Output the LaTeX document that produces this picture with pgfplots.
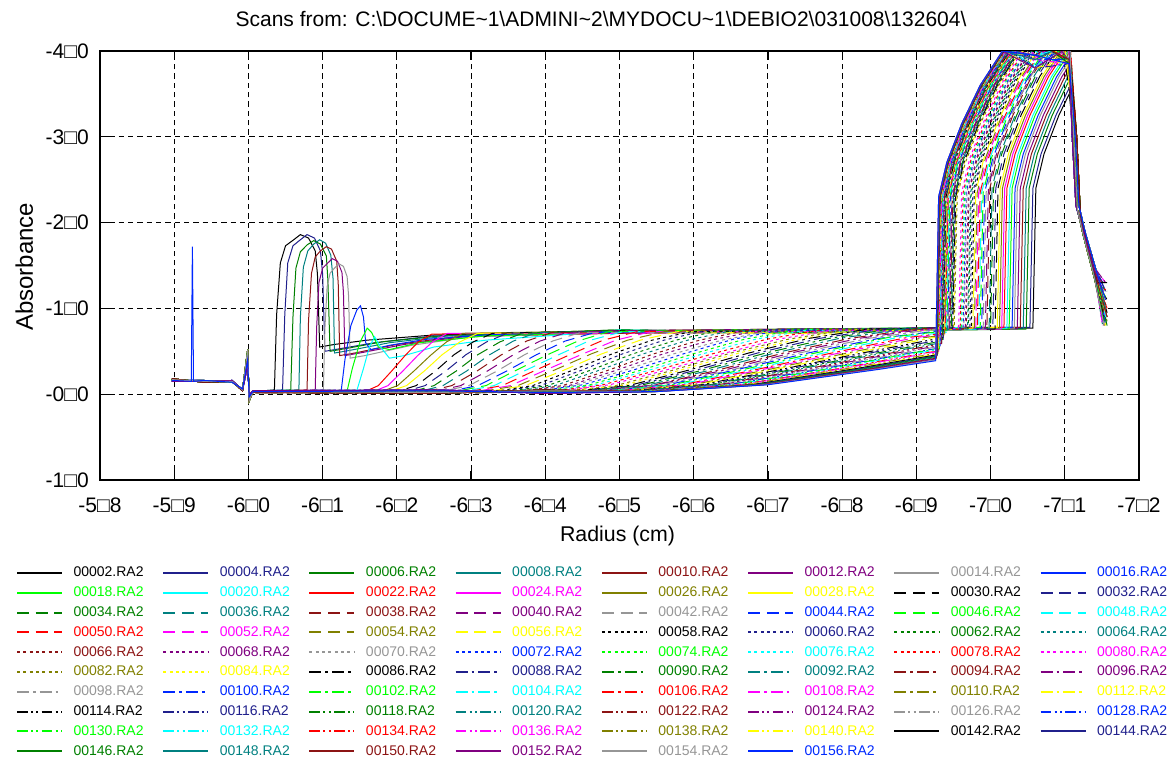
\documentclass[border=0pt]{standalone}
\usepackage{fontspec}
\setmainfont{Liberation Sans}
\usepackage{pgfplots}
\pgfplotsset{compat=1.18}
\definecolor{cblack}{RGB}{0,0,0}
\definecolor{cnavy}{RGB}{32,32,140}
\definecolor{cgreen}{RGB}{0,128,0}
\definecolor{cteal}{RGB}{0,128,128}
\definecolor{cdred}{RGB}{140,20,20}
\definecolor{cpurple}{RGB}{128,0,128}
\definecolor{cgray}{RGB}{150,150,150}
\definecolor{cblue}{RGB}{0,40,255}
\definecolor{clime}{RGB}{0,255,0}
\definecolor{ccyan}{RGB}{0,255,255}
\definecolor{cred}{RGB}{255,0,0}
\definecolor{cmag}{RGB}{255,0,255}
\definecolor{colive}{RGB}{128,128,0}
\definecolor{cyel}{RGB}{255,255,0}
\tikzset{
  lsdash/.style={dash pattern=on 9pt off 5pt},
  lsdot/.style={dash pattern=on 2.25pt off 2.5pt},
  lsdd/.style={dash pattern=on 9pt off 3pt on 2pt off 3pt},
  lsddd/.style={dash pattern=on 8pt off 2.5pt on 1.5pt off 2.5pt on 1.5pt off 2.5pt}
}
\begin{document}
\begin{tikzpicture}
\useasboundingbox (0pt,0pt) rectangle (879.75pt,-571.5pt);
\begin{axis}[
  at={(75pt,-360pt)}, anchor=south west,
  scale only axis, width=779.25pt, height=321.75pt,
  xmin=5.8, xmax=7.2, ymin=-1, ymax=4,
  xtick={5.8,5.9,6.0,6.1,6.2,6.3,6.4,6.5,6.6,6.7,6.8,6.9,7.0,7.1,7.2},
  xticklabels={-5□8,-5□9,-6□0,-6□1,-6□2,-6□3,-6□4,-6□5,-6□6,-6□7,-6□8,-6□9,-7□0,-7□1,-7□2},
  ytick={-1,0,1,2,3,4},
  yticklabels={-1□0,-0□0,-1□0,-2□0,-3□0,-4□0},
  grid=major,
  major grid style={black, line width=0.75pt, dash pattern=on 4pt off 3pt},
  axis line style={black, line width=1.1pt},
  tick align=inside, major tick length=6.75pt,
  tick style={black, line width=0.9pt},
  xticklabel style={font=\fontsize{15.75}{18}\selectfont, anchor=base, inner sep=0pt, yshift=-24pt},
  yticklabel style={font=\fontsize{15.75}{18}\selectfont, anchor=east, inner sep=0pt, xshift=-8.25pt},
  title={Scans from: C:\textbackslash DOCUME\textasciitilde 1\textbackslash ADMINI\textasciitilde 2\textbackslash MYDOCU\textasciitilde 1\textbackslash DEBIO2\textbackslash 031008\textbackslash 132604\textbackslash},
  title style={font=\fontsize{15.75}{18}\selectfont, at={(axis description cs:0.4822,1.0396)}, anchor=base, inner sep=0pt},
  xlabel={Radius (cm)},
  xlabel style={font=\fontsize{16}{18}\selectfont, at={(axis description cs:0.4981,-0.1445)}, anchor=base, inner sep=0pt},
  ylabel={Absorbance},
  ylabel style={font=\fontsize{18}{20}\selectfont, at={(axis description cs:-0.0645,0.4972)}, anchor=base, inner sep=0pt},
  every axis plot/.append style={line width=0.75pt},
  legend columns=8,
  legend cell align=left,
  legend image code/.code={\draw[#1, line width=1.5pt] (0pt,0pt) -- (33.75pt,0pt); \path (42pt,0pt);},
  legend style={at={(axis description cs:-0.0808,-0.2012)}, anchor=north west,
    draw=none, fill=none, inner sep=0pt, outer sep=0pt,
    font=\fontsize{10.5}{12}\selectfont,
    nodes={inner sep=0pt, text height=8pt, text depth=2pt},
    row sep=4.85pt,
    /tikz/every even column/.append style={column sep=14pt}},
]
\addplot[cblack,solid] coordinates {(5.897,0.17)(5.94,0.15)(5.978,0.15)(5.992,0.05)(5.999,0.52)(6.001,-0.08)(6.006,0.03)(6.035,0.05)(6.038,0.93)(6.043,1.53)(6.050,1.73)(6.061,1.80)(6.070,1.86)(6.081,1.82)(6.090,1.67)(6.093,1.40)(6.096,0.55)(6.116,0.58)(6.16,0.63)(6.25,0.69)(6.5,0.74)(6.75,0.74)(7.057,0.77)(7.061,2.4)(7.072,2.8)(7.092,3.25)(7.106,3.50)(7.112,3.0)(7.117,2.15)(7.125,1.85)(7.14,1.35)(7.153,0.85)};
\addlegendentry{\textcolor{cblack}{00002.RA2}}
\addplot[cnavy,solid] coordinates {(5.897,0.16)(5.94,0.16)(5.978,0.14)(5.992,0.06)(5.999,0.40)(6.001,-0.03)(6.006,0.03)(6.046,0.05)(6.049,0.93)(6.053,1.53)(6.060,1.73)(6.070,1.80)(6.079,1.86)(6.089,1.82)(6.097,1.67)(6.100,1.40)(6.103,0.50)(6.123,0.53)(6.17,0.60)(6.25,0.68)(6.5,0.72)(6.75,0.76)(7.053,0.78)(7.057,2.4)(7.068,2.8)(7.088,3.25)(7.106,3.57)(7.114,3.0)(7.119,2.2)(7.127,1.9)(7.142,1.45)(7.155,1.0)};
\addlegendentry{\textcolor{cnavy}{00004.RA2}}
\addplot[cgreen,solid] coordinates {(5.897,0.18)(5.94,0.14)(5.978,0.15)(5.992,0.04)(5.999,0.46)(6.001,-0.06)(6.006,0.02)(6.057,0.05)(6.060,0.90)(6.064,1.47)(6.070,1.66)(6.079,1.74)(6.088,1.79)(6.097,1.75)(6.105,1.61)(6.107,1.34)(6.110,0.50)(6.130,0.53)(6.18,0.61)(6.26,0.68)(6.5,0.75)(6.75,0.72)(7.048,0.76)(7.052,2.4)(7.063,2.8)(7.083,3.25)(7.106,3.66)(7.116,3.0)(7.121,2.1)(7.129,1.8)(7.144,1.3)(7.157,0.9)};
\addlegendentry{\textcolor{cgreen}{00006.RA2}}
\addplot[cteal,solid] coordinates {(5.897,0.15)(5.94,0.15)(5.978,0.16)(5.992,0.05)(5.999,0.34)(6.001,-0.01)(6.006,0.04)(6.068,0.05)(6.070,0.90)(6.074,1.48)(6.080,1.67)(6.088,1.75)(6.096,1.80)(6.104,1.76)(6.111,1.62)(6.114,1.35)(6.116,0.48)(6.136,0.51)(6.19,0.60)(6.27,0.68)(6.5,0.73)(6.75,0.75)(7.044,0.77)(7.048,2.4)(7.059,2.8)(7.079,3.25)(7.104,3.7)(7.106,3.73)(7.110,3.0)(7.115,2.2)(7.123,1.95)(7.138,1.5)(7.151,1.2)};
\addlegendentry{\textcolor{cteal}{00008.RA2}}
\addplot[cdred,solid] coordinates {(5.897,0.17)(5.94,0.15)(5.978,0.15)(5.992,0.05)(5.999,0.52)(6.001,-0.08)(6.006,0.03)(6.079,0.05)(6.081,0.86)(6.085,1.41)(6.090,1.60)(6.097,1.67)(6.105,1.72)(6.112,1.69)(6.119,1.55)(6.121,1.29)(6.123,0.45)(6.143,0.48)(6.20,0.58)(6.28,0.67)(6.5,0.71)(6.75,0.73)(7.040,0.78)(7.044,2.4)(7.055,2.8)(7.075,3.25)(7.100,3.7)(7.106,3.78)(7.112,3.0)(7.117,2.15)(7.125,1.85)(7.14,1.35)(7.153,0.8)};
\addlegendentry{\textcolor{cdred}{00010.RA2}}
\addplot[cpurple,solid] coordinates {(5.897,0.16)(5.94,0.16)(5.978,0.14)(5.992,0.06)(5.999,0.40)(6.001,-0.03)(6.006,0.03)(6.090,0.05)(6.092,0.79)(6.095,1.30)(6.100,1.47)(6.107,1.53)(6.113,1.58)(6.120,1.55)(6.126,1.42)(6.128,1.19)(6.130,0.45)(6.150,0.48)(6.21,0.58)(6.29,0.67)(6.5,0.74)(6.75,0.76)(7.036,0.76)(7.040,2.4)(7.051,2.8)(7.071,3.25)(7.096,3.7)(7.106,3.83)(7.114,3.0)(7.119,2.2)(7.127,1.9)(7.142,1.45)(7.155,1.1)};
\addlegendentry{\textcolor{cpurple}{00012.RA2}}
\addplot[cgray,solid] coordinates {(5.897,0.18)(5.94,0.14)(5.978,0.15)(5.992,0.04)(5.999,0.46)(6.001,-0.06)(6.006,0.02)(6.101,0.05)(6.103,0.76)(6.106,1.25)(6.110,1.41)(6.116,1.47)(6.122,1.52)(6.128,1.49)(6.133,1.37)(6.135,1.14)(6.137,0.42)(6.157,0.45)(6.22,0.57)(6.30,0.67)(6.5,0.72)(6.75,0.71)(7.032,0.77)(7.036,2.4)(7.047,2.8)(7.067,3.25)(7.092,3.7)(7.106,3.89)(7.116,3.0)(7.121,2.1)(7.129,1.8)(7.144,1.3)(7.157,0.95)};
\addlegendentry{\textcolor{cgray}{00014.RA2}}
\addplot[cblue,solid] coordinates {(5.897,0.15)(5.94,0.15)(5.978,0.16)(5.992,0.05)(5.999,0.34)(6.001,-0.01)(6.006,0.04)(6.125,0.04)(6.130,0.40)(6.138,0.80)(6.146,0.98)(6.151,1.03)(6.155,0.90)(6.158,0.60)(6.165,0.52)(6.19,0.57)(6.24,0.64)(6.32,0.69)(6.5,0.74)(6.75,0.74)(7.029,0.78)(7.033,2.4)(7.044,2.8)(7.064,3.25)(7.089,3.7)(7.106,3.93)(7.110,3.0)(7.115,2.2)(7.123,1.95)(7.138,1.5)(7.151,1.3)};
\addlegendentry{\textcolor{cblue}{00016.RA2}}
\addplot[clime,solid] coordinates {(5.897,0.17)(5.94,0.15)(5.978,0.15)(5.992,0.05)(5.999,0.52)(6.001,-0.08)(6.006,0.03)(6.133,0.04)(6.140,0.30)(6.150,0.60)(6.160,0.77)(6.166,0.72)(6.175,0.55)(6.19,0.52)(6.23,0.60)(6.32,0.68)(6.5,0.72)(6.75,0.76)(7.025,0.76)(7.029,2.4)(7.040,2.8)(7.060,3.25)(7.085,3.7)(7.106,3.98)(7.112,3.0)(7.117,2.15)(7.125,1.85)(7.14,1.35)(7.153,0.88)};
\addlegendentry{\textcolor{clime}{00018.RA2}}
\addplot[ccyan,solid] coordinates {(5.897,0.16)(5.94,0.16)(5.978,0.14)(5.992,0.06)(5.999,0.40)(6.001,-0.03)(6.006,0.03)(6.146,0.04)(6.155,0.30)(6.163,0.55)(6.170,0.67)(6.178,0.55)(6.19,0.42)(6.21,0.45)(6.25,0.55)(6.32,0.63)(6.42,0.69)(6.5,0.75)(6.75,0.72)(7.022,0.77)(7.026,2.4)(7.037,2.8)(7.057,3.25)(7.082,3.7)(7.106,4.02)(7.114,3.0)(7.119,2.2)(7.127,1.9)(7.142,1.45)(7.155,0.85)};
\addlegendentry{\textcolor{ccyan}{00020.RA2}}
\addplot[cred,solid] coordinates {(5.897,0.18)(5.94,0.14)(5.978,0.15)(5.992,0.04)(5.999,0.46)(6.001,-0.06)(6.006,0.02)(6.157,0.03)(6.175,0.10)(6.193,0.27)(6.211,0.45)(6.229,0.61)(6.247,0.70)(6.5,0.73)(6.75,0.75)(7.018,0.78)(7.022,2.4)(7.033,2.8)(7.053,3.25)(7.078,3.7)(7.106,4.07)(7.116,3.0)(7.121,2.1)(7.129,1.8)(7.144,1.3)(7.157,1.0)};
\addlegendentry{\textcolor{cred}{00022.RA2}}
\addplot[cmag,solid] coordinates {(5.897,0.15)(5.94,0.15)(5.978,0.16)(5.992,0.05)(5.999,0.34)(6.001,-0.01)(6.006,0.04)(6.168,0.03)(6.188,0.10)(6.208,0.27)(6.228,0.45)(6.248,0.61)(6.268,0.71)(6.5,0.71)(6.75,0.73)(7.015,0.76)(7.019,2.4)(7.030,2.8)(7.050,3.25)(7.075,3.7)(7.105,4.1)(7.110,3.0)(7.115,2.2)(7.123,1.95)(7.138,1.5)(7.151,0.9)};
\addlegendentry{\textcolor{cmag}{00024.RA2}}
\addplot[colive,solid] coordinates {(5.897,0.17)(5.94,0.15)(5.978,0.15)(5.992,0.05)(5.999,0.52)(6.001,-0.08)(6.006,0.03)(6.179,0.03)(6.201,0.10)(6.223,0.27)(6.245,0.45)(6.267,0.61)(6.289,0.71)(6.5,0.74)(6.75,0.76)(7.012,0.77)(7.016,2.4)(7.027,2.8)(7.047,3.25)(7.072,3.7)(7.102,4.1)(7.112,3.0)(7.117,2.15)(7.125,1.85)(7.14,1.35)(7.153,1.2)};
\addlegendentry{\textcolor{colive}{00026.RA2}}
\addplot[cyel,solid] coordinates {(5.897,0.16)(5.94,0.16)(5.978,0.14)(5.992,0.06)(5.999,0.40)(6.001,-0.03)(6.006,0.03)(6.189,0.03)(6.213,0.10)(6.237,0.27)(6.261,0.46)(6.285,0.61)(6.309,0.71)(6.5,0.72)(6.75,0.71)(7.009,0.78)(7.013,2.4)(7.024,2.8)(7.044,3.25)(7.069,3.7)(7.099,4.1)(7.114,3.0)(7.119,2.2)(7.127,1.9)(7.142,1.45)(7.155,0.8)};
\addlegendentry{\textcolor{cyel}{00028.RA2}}
\addplot[cblack,lsdash] coordinates {(5.897,0.18)(5.94,0.14)(5.978,0.15)(5.992,0.04)(5.999,0.46)(6.001,-0.06)(6.006,0.02)(6.200,0.03)(6.226,0.10)(6.252,0.27)(6.277,0.46)(6.303,0.61)(6.329,0.71)(6.5,0.74)(6.75,0.74)(7.006,0.76)(7.010,2.4)(7.021,2.8)(7.041,3.25)(7.066,3.7)(7.096,4.1)(7.116,3.0)(7.121,2.1)(7.129,1.8)(7.144,1.3)(7.157,1.1)};
\addlegendentry{\textcolor{cblack}{00030.RA2}}
\addplot[cnavy,lsdash] coordinates {(5.897,0.15)(5.94,0.15)(5.978,0.16)(5.992,0.05)(5.999,0.34)(6.001,-0.01)(6.006,0.04)(6.210,0.03)(6.238,0.10)(6.266,0.27)(6.293,0.46)(6.321,0.61)(6.349,0.71)(6.5,0.72)(6.75,0.76)(7.003,0.77)(7.007,2.4)(7.018,2.8)(7.038,3.25)(7.063,3.7)(7.093,4.1)(7.106,4.05)(7.110,3.0)(7.115,2.2)(7.123,1.95)(7.138,1.5)(7.151,0.95)};
\addlegendentry{\textcolor{cnavy}{00032.RA2}}
\addplot[cgreen,lsdash] coordinates {(5.897,0.17)(5.94,0.15)(5.978,0.15)(5.992,0.05)(5.999,0.52)(6.001,-0.08)(6.006,0.03)(6.220,0.03)(6.250,0.10)(6.280,0.27)(6.309,0.46)(6.339,0.61)(6.369,0.71)(6.5,0.75)(6.75,0.72)(7.000,0.78)(7.004,2.4)(7.015,2.8)(7.035,3.25)(7.060,3.7)(7.090,4.1)(7.106,4.2)(7.112,3.0)(7.117,2.15)(7.125,1.85)(7.14,1.35)(7.153,1.3)};
\addlegendentry{\textcolor{cgreen}{00034.RA2}}
\addplot[cteal,lsdash] coordinates {(5.897,0.16)(5.94,0.16)(5.978,0.14)(5.992,0.06)(5.999,0.40)(6.001,-0.03)(6.006,0.03)(6.230,0.03)(6.262,0.10)(6.294,0.27)(6.325,0.46)(6.357,0.62)(6.389,0.72)(6.5,0.73)(6.75,0.75)(6.998,0.76)(7.002,2.4)(7.013,2.8)(7.033,3.25)(7.058,3.7)(7.088,4.1)(7.106,3.85)(7.114,3.0)(7.119,2.2)(7.127,1.9)(7.142,1.45)(7.155,0.88)};
\addlegendentry{\textcolor{cteal}{00036.RA2}}
\addplot[cdred,lsdash] coordinates {(5.897,0.18)(5.94,0.14)(5.978,0.15)(5.992,0.04)(5.999,0.46)(6.001,-0.06)(6.006,0.02)(6.240,0.03)(6.274,0.10)(6.308,0.27)(6.341,0.46)(6.375,0.62)(6.409,0.72)(6.5,0.71)(6.75,0.73)(6.995,0.77)(6.999,2.4)(7.010,2.8)(7.030,3.25)(7.055,3.7)(7.085,4.1)(7.106,4.1)(7.116,3.0)(7.121,2.1)(7.129,1.8)(7.144,1.3)(7.157,0.85)};
\addlegendentry{\textcolor{cdred}{00038.RA2}}
\addplot[cpurple,lsdash] coordinates {(5.897,0.15)(5.94,0.15)(5.978,0.16)(5.992,0.05)(5.999,0.34)(6.001,-0.01)(6.006,0.04)(6.250,0.03)(6.286,0.10)(6.322,0.27)(6.357,0.46)(6.393,0.62)(6.429,0.72)(6.5,0.74)(6.75,0.76)(6.993,0.78)(6.997,2.4)(7.008,2.8)(7.028,3.25)(7.053,3.7)(7.083,4.1)(7.106,3.9)(7.110,3.0)(7.115,2.2)(7.123,1.95)(7.138,1.5)(7.151,1.0)};
\addlegendentry{\textcolor{cpurple}{00040.RA2}}
\addplot[cgray,lsdash] coordinates {(5.897,0.17)(5.94,0.15)(5.978,0.15)(5.992,0.05)(5.999,0.52)(6.001,-0.08)(6.006,0.03)(6.259,0.03)(6.297,0.10)(6.335,0.27)(6.372,0.46)(6.410,0.62)(6.448,0.72)(6.5,0.72)(6.75,0.71)(6.990,0.76)(6.994,2.35)(7.005,2.75)(7.025,3.2)(7.050,3.65)(7.080,4.05)(7.106,4.05)(7.112,3.0)(7.117,2.15)(7.125,1.85)(7.14,1.35)(7.153,0.9)};
\addlegendentry{\textcolor{cgray}{00042.RA2}}
\addplot[cblue,lsdash] coordinates {(5.897,0.16)(5.94,0.16)(5.978,0.14)(5.992,0.06)(5.999,0.40)(6.001,-0.03)(6.006,0.03)(6.269,0.03)(6.309,0.10)(6.348,0.27)(6.388,0.46)(6.427,0.62)(6.467,0.72)(6.75,0.74)(6.988,0.77)(6.992,2.35)(7.003,2.75)(7.023,3.2)(7.048,3.65)(7.078,4.05)(7.106,4.2)(7.114,3.0)(7.119,2.2)(7.127,1.9)(7.142,1.45)(7.155,1.2)};
\addlegendentry{\textcolor{cblue}{00044.RA2}}
\addplot[clime,lsdash] coordinates {(5.897,0.18)(5.94,0.14)(5.978,0.15)(5.992,0.04)(5.999,0.46)(6.001,-0.06)(6.006,0.02)(6.278,0.03)(6.320,0.10)(6.361,0.28)(6.403,0.46)(6.444,0.62)(6.486,0.73)(6.75,0.76)(6.986,0.78)(6.990,2.35)(7.001,2.75)(7.021,3.2)(7.046,3.65)(7.076,4.05)(7.106,3.85)(7.116,3.0)(7.121,2.1)(7.129,1.8)(7.144,1.3)(7.157,0.8)};
\addlegendentry{\textcolor{clime}{00046.RA2}}
\addplot[ccyan,lsdash] coordinates {(5.897,0.15)(5.94,0.15)(5.978,0.16)(5.992,0.05)(5.999,0.34)(6.001,-0.01)(6.006,0.04)(6.287,0.03)(6.331,0.10)(6.374,0.28)(6.418,0.46)(6.461,0.63)(6.505,0.73)(6.75,0.72)(6.984,0.76)(6.988,2.35)(6.999,2.75)(7.019,3.2)(7.044,3.65)(7.074,4.05)(7.106,4.1)(7.110,3.0)(7.115,2.2)(7.123,1.95)(7.138,1.5)(7.151,1.1)};
\addlegendentry{\textcolor{ccyan}{00048.RA2}}
\addplot[cred,lsdash] coordinates {(5.897,0.17)(5.94,0.15)(5.978,0.15)(5.992,0.05)(5.999,0.52)(6.001,-0.08)(6.006,0.03)(6.296,0.03)(6.342,0.10)(6.387,0.28)(6.433,0.46)(6.478,0.63)(6.524,0.73)(6.75,0.75)(6.982,0.77)(6.986,2.35)(6.997,2.75)(7.017,3.2)(7.042,3.65)(7.072,4.05)(7.106,3.9)(7.112,3.0)(7.117,2.15)(7.125,1.85)(7.14,1.35)(7.153,0.95)};
\addlegendentry{\textcolor{cred}{00050.RA2}}
\addplot[cmag,lsdash] coordinates {(5.897,0.16)(5.94,0.16)(5.978,0.14)(5.992,0.06)(5.999,0.40)(6.001,-0.03)(6.006,0.03)(6.305,0.03)(6.353,0.10)(6.400,0.28)(6.448,0.46)(6.495,0.63)(6.543,0.73)(6.75,0.73)(6.980,0.78)(6.984,2.35)(6.995,2.75)(7.015,3.2)(7.040,3.65)(7.070,4.05)(7.106,4.05)(7.114,3.0)(7.119,2.2)(7.127,1.9)(7.142,1.45)(7.155,1.3)};
\addlegendentry{\textcolor{cmag}{00052.RA2}}
\addplot[colive,lsdash] coordinates {(5.897,0.18)(5.94,0.14)(5.978,0.15)(5.992,0.04)(5.999,0.46)(6.001,-0.06)(6.006,0.02)(6.313,0.03)(6.363,0.10)(6.412,0.28)(6.462,0.47)(6.511,0.63)(6.561,0.73)(6.75,0.76)(6.978,0.76)(6.982,2.35)(6.993,2.75)(7.013,3.2)(7.038,3.65)(7.068,4.05)(7.106,4.2)(7.116,3.0)(7.121,2.1)(7.129,1.8)(7.144,1.3)(7.157,0.88)};
\addlegendentry{\textcolor{colive}{00054.RA2}}
\addplot[cyel,lsdash] coordinates {(5.897,0.15)(5.94,0.15)(5.978,0.16)(5.992,0.05)(5.999,0.34)(6.001,-0.01)(6.006,0.04)(6.322,0.03)(6.373,0.10)(6.425,0.28)(6.476,0.47)(6.528,0.63)(6.579,0.73)(6.75,0.71)(6.976,0.77)(6.980,2.35)(6.991,2.75)(7.011,3.2)(7.036,3.65)(7.066,4.05)(7.106,3.85)(7.110,3.0)(7.115,2.2)(7.123,1.95)(7.138,1.5)(7.151,0.85)};
\addlegendentry{\textcolor{cyel}{00056.RA2}}
\addplot[cblack,lsdot] coordinates {(5.897,0.17)(5.94,0.15)(5.978,0.15)(5.992,0.05)(5.999,0.52)(6.001,-0.08)(6.006,0.03)(6.25,0.02)(6.330,0.03)(6.383,0.10)(6.437,0.28)(6.490,0.47)(6.544,0.63)(6.597,0.73)(6.75,0.74)(6.974,0.78)(6.978,2.35)(6.989,2.75)(7.009,3.2)(7.034,3.65)(7.064,4.05)(7.106,4.1)(7.112,3.0)(7.117,2.15)(7.125,1.85)(7.14,1.35)(7.153,1.0)};
\addlegendentry{\textcolor{cblack}{00058.RA2}}
\addplot[cnavy,lsdot] coordinates {(5.897,0.16)(5.94,0.16)(5.978,0.14)(5.992,0.06)(5.999,0.40)(6.001,-0.03)(6.006,0.03)(6.25,0.04)(6.338,0.03)(6.393,0.10)(6.449,0.28)(6.504,0.47)(6.560,0.63)(6.615,0.74)(6.75,0.76)(6.972,0.76)(6.976,2.35)(6.987,2.75)(7.007,3.2)(7.032,3.65)(7.062,4.05)(7.106,3.9)(7.114,3.0)(7.119,2.2)(7.127,1.9)(7.142,1.45)(7.155,0.9)};
\addlegendentry{\textcolor{cnavy}{00060.RA2}}
\addplot[cgreen,lsdot] coordinates {(5.897,0.18)(5.94,0.14)(5.978,0.15)(5.992,0.04)(5.999,0.46)(6.001,-0.06)(6.006,0.02)(6.25,0.01)(6.346,0.03)(6.403,0.10)(6.461,0.28)(6.518,0.47)(6.576,0.63)(6.633,0.74)(6.75,0.72)(6.970,0.77)(6.974,2.35)(6.985,2.75)(7.005,3.2)(7.030,3.65)(7.060,4.05)(7.106,4.05)(7.116,3.0)(7.121,2.1)(7.129,1.8)(7.144,1.3)(7.157,1.2)};
\addlegendentry{\textcolor{cgreen}{00062.RA2}}
\addplot[cteal,lsdot] coordinates {(5.897,0.15)(5.94,0.15)(5.978,0.16)(5.992,0.05)(5.999,0.34)(6.001,-0.01)(6.006,0.04)(6.25,0.05)(6.354,0.03)(6.413,0.10)(6.473,0.28)(6.532,0.47)(6.592,0.63)(6.651,0.74)(6.75,0.75)(6.969,0.78)(6.973,2.35)(6.984,2.75)(7.004,3.2)(7.029,3.65)(7.059,4.05)(7.106,4.2)(7.110,3.0)(7.115,2.2)(7.123,1.95)(7.138,1.5)(7.151,0.8)};
\addlegendentry{\textcolor{cteal}{00064.RA2}}
\addplot[cdred,lsdot] coordinates {(5.897,0.17)(5.94,0.15)(5.978,0.15)(5.992,0.05)(5.999,0.52)(6.001,-0.08)(6.006,0.03)(6.25,0.02)(6.362,0.03)(6.423,0.10)(6.485,0.28)(6.546,0.47)(6.608,0.63)(6.669,0.74)(6.8,0.73)(6.967,0.76)(6.971,2.35)(6.982,2.75)(7.002,3.2)(7.027,3.65)(7.057,4.05)(7.106,3.85)(7.112,3.0)(7.117,2.15)(7.125,1.85)(7.14,1.35)(7.153,1.1)};
\addlegendentry{\textcolor{cdred}{00066.RA2}}
\addplot[cpurple,lsdot] coordinates {(5.897,0.16)(5.94,0.16)(5.978,0.14)(5.992,0.06)(5.999,0.40)(6.001,-0.03)(6.006,0.03)(6.25,0.04)(6.369,0.03)(6.432,0.10)(6.496,0.28)(6.559,0.47)(6.623,0.63)(6.686,0.74)(6.82,0.76)(6.966,0.77)(6.970,2.35)(6.981,2.75)(7.001,3.2)(7.026,3.65)(7.056,4.05)(7.106,4.1)(7.114,3.0)(7.119,2.2)(7.127,1.9)(7.142,1.45)(7.155,0.95)};
\addlegendentry{\textcolor{cpurple}{00068.RA2}}
\addplot[cgray,lsdot] coordinates {(5.897,0.18)(5.94,0.14)(5.978,0.15)(5.992,0.04)(5.999,0.46)(6.001,-0.06)(6.006,0.02)(6.25,0.01)(6.377,0.03)(6.442,0.11)(6.507,0.28)(6.573,0.47)(6.638,0.63)(6.703,0.74)(6.83,0.72)(6.964,0.78)(6.968,2.35)(6.979,2.75)(6.999,3.2)(7.024,3.65)(7.054,4.05)(7.08,4.2)(7.106,3.9)(7.116,3.0)(7.121,2.1)(7.129,1.8)(7.144,1.3)(7.157,1.3)};
\addlegendentry{\textcolor{cgray}{00070.RA2}}
\addplot[cblue,lsdot] coordinates {(5.897,0.15)(5.94,0.15)(5.978,0.16)(5.992,0.05)(5.999,0.34)(6.001,-0.01)(6.006,0.04)(6.25,0.05)(6.384,0.03)(6.451,0.11)(6.518,0.28)(6.586,0.47)(6.653,0.64)(6.720,0.75)(6.84,0.74)(6.963,0.76)(6.967,2.35)(6.978,2.75)(6.998,3.2)(7.023,3.65)(7.053,4.05)(7.08,3.95)(7.106,4.05)(7.110,3.0)(7.115,2.2)(7.123,1.95)(7.138,1.5)(7.151,0.88)};
\addlegendentry{\textcolor{cblue}{00072.RA2}}
\addplot[clime,lsdot] coordinates {(5.897,0.17)(5.94,0.15)(5.978,0.15)(5.992,0.05)(5.999,0.52)(6.001,-0.08)(6.006,0.03)(6.25,0.02)(6.391,0.03)(6.460,0.11)(6.529,0.28)(6.599,0.47)(6.668,0.64)(6.737,0.75)(6.85,0.76)(6.961,0.77)(6.965,2.35)(6.976,2.75)(6.996,3.2)(7.021,3.65)(7.051,4.05)(7.08,4.15)(7.106,4.2)(7.112,3.0)(7.117,2.15)(7.125,1.85)(7.14,1.35)(7.153,0.85)};
\addlegendentry{\textcolor{clime}{00074.RA2}}
\addplot[ccyan,lsdot] coordinates {(5.897,0.16)(5.94,0.16)(5.978,0.14)(5.992,0.06)(5.999,0.40)(6.001,-0.03)(6.006,0.03)(6.25,0.04)(6.398,0.03)(6.469,0.11)(6.540,0.28)(6.612,0.47)(6.683,0.64)(6.754,0.75)(6.86,0.72)(6.960,0.78)(6.964,2.35)(6.975,2.75)(6.995,3.2)(7.020,3.65)(7.050,4.05)(7.08,3.9)(7.106,3.85)(7.114,3.0)(7.119,2.2)(7.127,1.9)(7.142,1.45)(7.155,1.0)};
\addlegendentry{\textcolor{ccyan}{00076.RA2}}
\addplot[cred,lsdot] coordinates {(5.897,0.18)(5.94,0.14)(5.978,0.15)(5.992,0.04)(5.999,0.46)(6.001,-0.06)(6.006,0.02)(6.25,0.01)(6.405,0.03)(6.478,0.11)(6.551,0.28)(6.625,0.47)(6.698,0.64)(6.771,0.75)(6.87,0.75)(6.959,0.76)(6.963,2.35)(6.974,2.75)(6.994,3.2)(7.019,3.65)(7.049,4.05)(7.08,4.1)(7.106,4.1)(7.116,3.0)(7.121,2.1)(7.129,1.8)(7.144,1.3)(7.157,0.9)};
\addlegendentry{\textcolor{cred}{00078.RA2}}
\addplot[cmag,lsdot] coordinates {(5.897,0.15)(5.94,0.15)(5.978,0.16)(5.992,0.05)(5.999,0.34)(6.001,-0.01)(6.006,0.04)(6.25,0.05)(6.412,0.03)(6.487,0.11)(6.562,0.28)(6.638,0.47)(6.713,0.64)(6.788,0.75)(6.88,0.73)(6.957,0.77)(6.961,2.35)(6.972,2.75)(6.992,3.2)(7.017,3.65)(7.047,4.05)(7.08,3.8)(7.106,3.9)(7.110,3.0)(7.115,2.2)(7.123,1.95)(7.138,1.5)(7.151,1.2)};
\addlegendentry{\textcolor{cmag}{00080.RA2}}
\addplot[colive,lsdot] coordinates {(5.897,0.17)(5.94,0.15)(5.978,0.15)(5.992,0.05)(5.999,0.52)(6.001,-0.08)(6.006,0.03)(6.25,0.02)(6.418,0.03)(6.495,0.10)(6.572,0.28)(6.650,0.48)(6.727,0.64)(6.804,0.75)(6.88,0.76)(6.951,0.78)(6.955,2.3)(6.966,2.7)(6.986,3.15)(7.011,3.6)(7.041,4.0)(7.06,4.2)(7.106,4.05)(7.112,3.0)(7.117,2.15)(7.125,1.85)(7.14,1.35)(7.153,0.8)};
\addlegendentry{\textcolor{colive}{00082.RA2}}
\addplot[cyel,lsdot] coordinates {(5.897,0.16)(5.94,0.16)(5.978,0.14)(5.992,0.06)(5.999,0.40)(6.001,-0.03)(6.006,0.03)(6.25,0.04)(6.424,0.03)(6.503,0.10)(6.582,0.28)(6.661,0.48)(6.740,0.64)(6.819,0.75)(6.89,0.74)(6.950,0.76)(6.954,2.3)(6.965,2.7)(6.985,3.15)(7.010,3.6)(7.040,4.0)(7.06,3.95)(7.106,4.2)(7.114,3.0)(7.119,2.2)(7.127,1.9)(7.142,1.45)(7.155,1.1)};
\addlegendentry{\textcolor{cyel}{00084.RA2}}
\addplot[cblack,lsdd] coordinates {(5.897,0.18)(5.94,0.14)(5.978,0.15)(5.992,0.04)(5.999,0.46)(6.001,-0.06)(6.006,0.02)(6.25,0.01)(6.431,0.03)(6.512,0.10)(6.593,0.28)(6.674,0.48)(6.755,0.65)(6.836,0.76)(6.949,0.77)(6.953,2.3)(6.964,2.7)(6.984,3.15)(7.009,3.6)(7.039,4.0)(7.06,4.15)(7.106,3.85)(7.116,3.0)(7.121,2.1)(7.129,1.8)(7.144,1.3)(7.157,0.95)};
\addlegendentry{\textcolor{cblack}{00086.RA2}}
\addplot[cnavy,lsdd] coordinates {(5.897,0.15)(5.94,0.15)(5.978,0.16)(5.992,0.05)(5.999,0.34)(6.001,-0.01)(6.006,0.04)(6.25,0.05)(6.437,0.03)(6.520,0.10)(6.603,0.28)(6.686,0.48)(6.769,0.65)(6.852,0.76)(6.948,0.78)(6.952,2.3)(6.963,2.7)(6.983,3.15)(7.008,3.6)(7.038,4.0)(7.06,3.9)(7.106,4.1)(7.110,3.0)(7.115,2.2)(7.123,1.95)(7.138,1.5)(7.151,1.3)};
\addlegendentry{\textcolor{cnavy}{00088.RA2}}
\addplot[cgreen,lsdd] coordinates {(5.897,0.17)(5.94,0.15)(5.978,0.15)(5.992,0.05)(5.999,0.52)(6.001,-0.08)(6.006,0.03)(6.25,0.02)(6.442,0.03)(6.527,0.10)(6.612,0.28)(6.697,0.48)(6.782,0.65)(6.867,0.76)(6.947,0.76)(6.951,2.3)(6.962,2.7)(6.982,3.15)(7.007,3.6)(7.037,4.0)(7.06,4.1)(7.106,3.9)(7.112,3.0)(7.117,2.15)(7.125,1.85)(7.14,1.35)(7.153,0.88)};
\addlegendentry{\textcolor{cgreen}{00090.RA2}}
\addplot[cteal,lsdd] coordinates {(5.897,0.16)(5.94,0.16)(5.978,0.14)(5.992,0.06)(5.999,0.40)(6.001,-0.03)(6.006,0.03)(6.25,0.04)(6.4,0.02)(6.448,0.03)(6.535,0.10)(6.622,0.28)(6.709,0.48)(6.796,0.65)(6.883,0.76)(6.946,0.77)(6.950,2.3)(6.961,2.7)(6.981,3.15)(7.006,3.6)(7.036,4.0)(7.06,3.8)(7.106,4.05)(7.114,3.0)(7.119,2.2)(7.127,1.9)(7.142,1.45)(7.155,0.85)};
\addlegendentry{\textcolor{cteal}{00092.RA2}}
\addplot[cdred,lsdd] coordinates {(5.897,0.18)(5.94,0.14)(5.978,0.15)(5.992,0.04)(5.999,0.46)(6.001,-0.06)(6.006,0.02)(6.25,0.01)(6.4,0.05)(6.454,0.03)(6.543,0.10)(6.632,0.28)(6.721,0.48)(6.810,0.65)(6.899,0.76)(6.945,0.78)(6.949,2.3)(6.960,2.7)(6.980,3.15)(7.005,3.6)(7.035,4.0)(7.06,4.2)(7.106,4.2)(7.116,3.0)(7.121,2.1)(7.129,1.8)(7.144,1.3)(7.157,1.0)};
\addlegendentry{\textcolor{cdred}{00094.RA2}}
\addplot[cpurple,lsdd] coordinates {(5.897,0.15)(5.94,0.15)(5.978,0.16)(5.992,0.05)(5.999,0.34)(6.001,-0.01)(6.006,0.04)(6.25,0.05)(6.4,0.01)(6.459,0.03)(6.550,0.11)(6.641,0.28)(6.731,0.48)(6.822,0.65)(6.913,0.76)(6.944,0.76)(6.948,2.3)(6.959,2.7)(6.979,3.15)(7.004,3.6)(7.034,4.0)(7.06,3.95)(7.106,3.85)(7.110,3.0)(7.115,2.2)(7.123,1.95)(7.138,1.5)(7.151,0.9)};
\addlegendentry{\textcolor{cpurple}{00096.RA2}}
\addplot[cgray,lsdd] coordinates {(5.897,0.17)(5.94,0.15)(5.978,0.15)(5.992,0.05)(5.999,0.52)(6.001,-0.08)(6.006,0.03)(6.25,0.02)(6.4,0.04)(6.464,0.03)(6.557,0.11)(6.650,0.28)(6.742,0.48)(6.835,0.65)(6.928,0.76)(6.943,0.77)(6.947,2.3)(6.958,2.7)(6.978,3.15)(7.003,3.6)(7.033,4.0)(7.06,4.15)(7.106,4.1)(7.112,3.0)(7.117,2.15)(7.125,1.85)(7.14,1.35)(7.153,1.2)};
\addlegendentry{\textcolor{cgray}{00098.RA2}}
\addplot[cblue,lsdd] coordinates {(5.897,0.16)(5.94,0.16)(5.978,0.14)(5.992,0.06)(5.999,0.40)(6.001,-0.03)(6.006,0.03)(6.25,0.04)(6.4,0.02)(6.470,0.03)(6.565,0.11)(6.660,0.29)(6.754,0.48)(6.849,0.65)(6.942,0.75)(6.946,2.3)(6.957,2.7)(6.977,3.15)(7.002,3.6)(7.032,4.0)(7.06,3.9)(7.106,3.9)(7.114,3.0)(7.119,2.2)(7.127,1.9)(7.142,1.45)(7.155,0.8)};
\addlegendentry{\textcolor{cblue}{00100.RA2}}
\addplot[clime,lsdd] coordinates {(5.897,0.18)(5.94,0.14)(5.978,0.15)(5.992,0.04)(5.999,0.46)(6.001,-0.06)(6.006,0.02)(6.25,0.01)(6.4,0.05)(6.474,0.03)(6.571,0.11)(6.668,0.29)(6.764,0.48)(6.861,0.66)(6.941,0.74)(6.945,2.3)(6.956,2.7)(6.976,3.15)(7.001,3.6)(7.031,4.0)(7.06,4.1)(7.106,4.05)(7.116,3.0)(7.121,2.1)(7.129,1.8)(7.144,1.3)(7.157,1.1)};
\addlegendentry{\textcolor{clime}{00102.RA2}}
\addplot[ccyan,lsdd] coordinates {(5.897,0.15)(5.94,0.15)(5.978,0.16)(5.992,0.05)(5.999,0.34)(6.001,-0.01)(6.006,0.04)(6.25,0.05)(6.4,0.01)(6.479,0.03)(6.578,0.11)(6.677,0.29)(6.775,0.48)(6.874,0.66)(6.940,0.72)(6.944,2.3)(6.955,2.7)(6.975,3.15)(7.000,3.6)(7.030,4.0)(7.06,3.8)(7.106,4.2)(7.110,3.0)(7.115,2.2)(7.123,1.95)(7.138,1.5)(7.151,0.95)};
\addlegendentry{\textcolor{ccyan}{00104.RA2}}
\addplot[cred,lsdd] coordinates {(5.897,0.17)(5.94,0.15)(5.978,0.15)(5.992,0.05)(5.999,0.52)(6.001,-0.08)(6.006,0.03)(6.25,0.02)(6.4,0.04)(6.484,0.03)(6.585,0.11)(6.686,0.29)(6.786,0.48)(6.887,0.66)(6.939,0.71)(6.943,2.3)(6.954,2.7)(6.974,3.15)(6.999,3.6)(7.029,4.0)(7.06,4.2)(7.106,3.85)(7.112,3.0)(7.117,2.15)(7.125,1.85)(7.14,1.35)(7.153,1.3)};
\addlegendentry{\textcolor{cred}{00106.RA2}}
\addplot[cmag,lsdd] coordinates {(5.897,0.16)(5.94,0.16)(5.978,0.14)(5.992,0.06)(5.999,0.40)(6.001,-0.03)(6.006,0.03)(6.25,0.04)(6.4,0.02)(6.488,0.03)(6.591,0.11)(6.694,0.29)(6.796,0.48)(6.899,0.66)(6.938,0.70)(6.942,2.3)(6.953,2.7)(6.973,3.15)(6.998,3.6)(7.028,4.0)(7.06,3.95)(7.106,4.1)(7.114,3.0)(7.119,2.2)(7.127,1.9)(7.142,1.45)(7.155,0.88)};
\addlegendentry{\textcolor{cmag}{00108.RA2}}
\addplot[colive,lsdd] coordinates {(5.897,0.18)(5.94,0.14)(5.978,0.15)(5.992,0.04)(5.999,0.46)(6.001,-0.06)(6.006,0.02)(6.25,0.01)(6.4,0.05)(6.493,0.03)(6.598,0.11)(6.702,0.29)(6.807,0.48)(6.911,0.66)(6.938,0.69)(6.942,2.3)(6.953,2.7)(6.973,3.15)(6.998,3.6)(7.028,4.0)(7.06,4.15)(7.106,3.9)(7.116,3.0)(7.121,2.1)(7.129,1.8)(7.144,1.3)(7.157,0.85)};
\addlegendentry{\textcolor{colive}{00110.RA2}}
\addplot[cyel,lsdd] coordinates {(5.897,0.15)(5.94,0.15)(5.978,0.16)(5.992,0.05)(5.999,0.34)(6.001,-0.01)(6.006,0.04)(6.25,0.05)(6.4,0.01)(6.497,0.03)(6.604,0.11)(6.710,0.29)(6.817,0.48)(6.923,0.66)(6.937,0.67)(6.941,2.3)(6.952,2.7)(6.972,3.15)(6.997,3.6)(7.027,4.0)(7.06,3.9)(7.106,4.05)(7.110,3.0)(7.115,2.2)(7.123,1.95)(7.138,1.5)(7.151,1.0)};
\addlegendentry{\textcolor{cyel}{00112.RA2}}
\addplot[cblack,lsddd] coordinates {(5.897,0.17)(5.94,0.15)(5.978,0.15)(5.992,0.05)(5.999,0.52)(6.001,-0.08)(6.006,0.03)(6.25,0.02)(6.4,0.04)(6.501,0.03)(6.610,0.11)(6.718,0.29)(6.827,0.48)(6.936,0.66)(6.940,2.3)(6.951,2.7)(6.971,3.15)(6.996,3.6)(7.026,4.0)(7.06,4.1)(7.106,4.2)(7.112,3.0)(7.117,2.15)(7.125,1.85)(7.14,1.35)(7.153,0.9)};
\addlegendentry{\textcolor{cblack}{00114.RA2}}
\addplot[cnavy,lsddd] coordinates {(5.897,0.16)(5.94,0.16)(5.978,0.14)(5.992,0.06)(5.999,0.40)(6.001,-0.03)(6.006,0.03)(6.25,0.04)(6.4,0.02)(6.505,0.03)(6.616,0.11)(6.726,0.29)(6.837,0.48)(6.936,0.64)(6.940,2.3)(6.951,2.7)(6.971,3.15)(6.996,3.6)(7.026,4.0)(7.06,3.8)(7.106,3.85)(7.114,3.0)(7.119,2.2)(7.127,1.9)(7.142,1.45)(7.155,1.2)};
\addlegendentry{\textcolor{cnavy}{00116.RA2}}
\addplot[cgreen,lsddd] coordinates {(5.897,0.18)(5.94,0.14)(5.978,0.15)(5.992,0.04)(5.999,0.46)(6.001,-0.06)(6.006,0.02)(6.25,0.01)(6.4,0.05)(6.509,0.03)(6.622,0.11)(6.734,0.29)(6.847,0.48)(6.935,0.62)(6.939,2.3)(6.950,2.7)(6.970,3.15)(6.995,3.6)(7.025,4.0)(7.06,4.2)(7.106,4.1)(7.116,3.0)(7.121,2.1)(7.129,1.8)(7.144,1.3)(7.157,0.8)};
\addlegendentry{\textcolor{cgreen}{00118.RA2}}
\addplot[cteal,lsddd] coordinates {(5.897,0.15)(5.94,0.15)(5.978,0.16)(5.992,0.05)(5.999,0.34)(6.001,-0.01)(6.006,0.04)(6.25,0.05)(6.4,0.01)(6.512,0.03)(6.627,0.11)(6.741,0.29)(6.856,0.48)(6.934,0.60)(6.938,2.3)(6.949,2.7)(6.969,3.15)(6.994,3.6)(7.024,4.0)(7.06,3.95)(7.106,3.9)(7.110,3.0)(7.115,2.2)(7.123,1.95)(7.138,1.5)(7.151,1.1)};
\addlegendentry{\textcolor{cteal}{00120.RA2}}
\addplot[cdred,lsddd] coordinates {(5.897,0.17)(5.94,0.15)(5.978,0.15)(5.992,0.05)(5.999,0.52)(6.001,-0.08)(6.006,0.03)(6.25,0.02)(6.4,0.04)(6.516,0.03)(6.633,0.11)(6.749,0.29)(6.866,0.48)(6.934,0.59)(6.938,2.3)(6.949,2.7)(6.969,3.15)(6.994,3.6)(7.024,4.0)(7.06,4.15)(7.106,4.05)(7.112,3.0)(7.117,2.15)(7.125,1.85)(7.14,1.35)(7.153,0.95)};
\addlegendentry{\textcolor{cdred}{00122.RA2}}
\addplot[cpurple,lsddd] coordinates {(5.897,0.16)(5.94,0.16)(5.978,0.14)(5.992,0.06)(5.999,0.40)(6.001,-0.03)(6.006,0.03)(6.25,0.04)(6.4,0.02)(6.519,0.03)(6.637,0.11)(6.756,0.29)(6.874,0.48)(6.933,0.57)(6.937,2.3)(6.948,2.7)(6.968,3.15)(6.993,3.6)(7.023,4.0)(7.06,3.9)(7.106,4.2)(7.114,3.0)(7.119,2.2)(7.127,1.9)(7.142,1.45)(7.155,1.3)};
\addlegendentry{\textcolor{cpurple}{00124.RA2}}
\addplot[cgray,lsddd] coordinates {(5.897,0.18)(5.94,0.14)(5.978,0.15)(5.992,0.04)(5.999,0.46)(6.001,-0.06)(6.006,0.02)(6.25,0.01)(6.4,0.05)(6.522,0.03)(6.642,0.11)(6.763,0.29)(6.883,0.48)(6.932,0.56)(6.936,2.3)(6.947,2.7)(6.967,3.15)(6.992,3.6)(7.022,4.0)(7.06,4.1)(7.106,3.85)(7.116,3.0)(7.121,2.1)(7.129,1.8)(7.144,1.3)(7.157,0.88)};
\addlegendentry{\textcolor{cgray}{00126.RA2}}
\addplot[cblue,lsddd] coordinates {(5.897,0.15)(5.94,0.15)(5.978,0.16)(5.992,0.05)(5.999,0.34)(6.001,-0.01)(6.006,0.04)(6.25,0.05)(6.4,0.01)(6.525,0.03)(6.647,0.11)(6.770,0.29)(6.892,0.48)(6.932,0.54)(6.936,2.3)(6.947,2.7)(6.967,3.15)(6.992,3.6)(7.022,4.0)(7.06,3.8)(7.106,4.1)(7.110,3.0)(7.115,2.2)(7.123,1.95)(7.138,1.5)(7.151,0.85)};
\addlegendentry{\textcolor{cblue}{00128.RA2}}
\addplot[clime,lsddd] coordinates {(5.897,0.17)(5.94,0.15)(5.978,0.15)(5.992,0.05)(5.999,0.52)(6.001,-0.08)(6.006,0.03)(6.25,0.02)(6.4,0.04)(6.528,0.03)(6.652,0.11)(6.777,0.29)(6.901,0.49)(6.931,0.53)(6.935,2.3)(6.946,2.7)(6.966,3.15)(6.991,3.6)(7.021,4.0)(7.06,4.2)(7.106,3.9)(7.112,3.0)(7.117,2.15)(7.125,1.85)(7.14,1.35)(7.153,1.0)};
\addlegendentry{\textcolor{clime}{00130.RA2}}
\addplot[ccyan,lsddd] coordinates {(5.897,0.16)(5.94,0.16)(5.978,0.14)(5.992,0.06)(5.999,0.40)(6.001,-0.03)(6.006,0.03)(6.25,0.04)(6.4,0.02)(6.530,0.03)(6.656,0.11)(6.783,0.29)(6.909,0.49)(6.931,0.52)(6.935,2.3)(6.946,2.7)(6.966,3.15)(6.991,3.6)(7.021,4.0)(7.06,3.95)(7.106,4.05)(7.114,3.0)(7.119,2.2)(7.127,1.9)(7.142,1.45)(7.155,0.9)};
\addlegendentry{\textcolor{ccyan}{00132.RA2}}
\addplot[cred,lsddd] coordinates {(5.897,0.18)(5.94,0.14)(5.978,0.15)(5.992,0.04)(5.999,0.46)(6.001,-0.06)(6.006,0.02)(6.25,0.01)(6.4,0.05)(6.533,0.03)(6.661,0.11)(6.790,0.29)(6.918,0.49)(6.930,0.50)(6.934,2.3)(6.945,2.7)(6.965,3.15)(6.990,3.6)(7.020,4.0)(7.06,4.15)(7.106,4.2)(7.116,3.0)(7.121,2.1)(7.129,1.8)(7.144,1.3)(7.157,1.2)};
\addlegendentry{\textcolor{cred}{00134.RA2}}
\addplot[cmag,lsddd] coordinates {(5.897,0.15)(5.94,0.15)(5.978,0.16)(5.992,0.05)(5.999,0.34)(6.001,-0.01)(6.006,0.04)(6.25,0.05)(6.4,0.01)(6.535,0.03)(6.665,0.11)(6.795,0.29)(6.930,0.50)(6.934,2.3)(6.945,2.7)(6.965,3.15)(6.990,3.6)(7.020,4.0)(7.06,3.9)(7.106,3.85)(7.110,3.0)(7.115,2.2)(7.123,1.95)(7.138,1.5)(7.151,0.8)};
\addlegendentry{\textcolor{cmag}{00136.RA2}}
\addplot[colive,lsddd] coordinates {(5.897,0.17)(5.94,0.15)(5.978,0.15)(5.992,0.05)(5.999,0.52)(6.001,-0.08)(6.006,0.03)(6.25,0.02)(6.4,0.04)(6.537,0.03)(6.669,0.11)(6.801,0.29)(6.929,0.48)(6.933,2.3)(6.944,2.7)(6.964,3.15)(6.989,3.6)(7.019,4.0)(7.06,4.1)(7.106,4.1)(7.112,3.0)(7.117,2.15)(7.125,1.85)(7.14,1.35)(7.153,1.1)};
\addlegendentry{\textcolor{colive}{00138.RA2}}
\addplot[cyel,lsddd] coordinates {(5.897,0.16)(5.94,0.16)(5.978,0.14)(5.992,0.06)(5.999,0.40)(6.001,-0.03)(6.006,0.03)(6.25,0.04)(6.4,0.02)(6.539,0.03)(6.673,0.11)(6.807,0.29)(6.929,0.47)(6.933,2.3)(6.944,2.7)(6.964,3.15)(6.989,3.6)(7.019,4.0)(7.06,3.8)(7.106,3.9)(7.114,3.0)(7.119,2.2)(7.127,1.9)(7.142,1.45)(7.155,0.95)};
\addlegendentry{\textcolor{cyel}{00140.RA2}}
\addplot[cblack,solid] coordinates {(5.897,0.18)(5.94,0.14)(5.978,0.15)(5.992,0.04)(5.999,0.46)(6.001,-0.06)(6.006,0.02)(6.25,0.01)(6.4,0.05)(6.541,0.03)(6.677,0.11)(6.813,0.29)(6.928,0.46)(6.932,2.3)(6.943,2.7)(6.963,3.15)(6.988,3.6)(7.018,4.0)(7.06,4.2)(7.106,4.05)(7.116,3.0)(7.121,2.1)(7.129,1.8)(7.144,1.3)(7.157,1.3)};
\addlegendentry{\textcolor{cblack}{00142.RA2}}
\addplot[cnavy,solid] coordinates {(5.897,0.15)(5.94,0.15)(5.978,0.16)(5.992,0.05)(5.999,0.34)(6.001,-0.01)(6.006,0.04)(6.25,0.05)(6.4,0.01)(6.543,0.03)(6.681,0.11)(6.819,0.29)(6.928,0.45)(6.932,2.3)(6.943,2.7)(6.963,3.15)(6.988,3.6)(7.018,4.0)(7.06,3.95)(7.106,4.2)(7.110,3.0)(7.115,2.2)(7.123,1.95)(7.138,1.5)(7.151,0.88)};
\addlegendentry{\textcolor{cnavy}{00144.RA2}}
\addplot[cgreen,solid] coordinates {(5.897,0.17)(5.94,0.15)(5.978,0.15)(5.992,0.05)(5.999,0.52)(6.001,-0.08)(6.006,0.03)(6.25,0.02)(6.4,0.04)(6.545,0.03)(6.685,0.11)(6.825,0.29)(6.927,0.44)(6.931,2.3)(6.942,2.7)(6.962,3.15)(6.987,3.6)(7.017,4.0)(7.06,4.15)(7.106,3.85)(7.112,3.0)(7.117,2.15)(7.125,1.85)(7.14,1.35)(7.153,0.85)};
\addlegendentry{\textcolor{cgreen}{00146.RA2}}
\addplot[cteal,solid] coordinates {(5.897,0.16)(5.94,0.16)(5.978,0.14)(5.992,0.06)(5.999,0.40)(6.001,-0.03)(6.006,0.03)(6.25,0.04)(6.4,0.02)(6.546,0.03)(6.688,0.11)(6.830,0.29)(6.927,0.43)(6.931,2.3)(6.942,2.7)(6.962,3.15)(6.987,3.6)(7.017,4.0)(7.06,3.9)(7.106,4.1)(7.114,3.0)(7.119,2.2)(7.127,1.9)(7.142,1.45)(7.155,1.0)};
\addlegendentry{\textcolor{cteal}{00148.RA2}}
\addplot[cdred,solid] coordinates {(5.897,0.18)(5.94,0.14)(5.978,0.15)(5.992,0.04)(5.999,0.46)(6.001,-0.06)(6.006,0.02)(6.25,0.01)(6.4,0.05)(6.547,0.03)(6.691,0.11)(6.835,0.29)(6.927,0.42)(6.931,2.3)(6.942,2.7)(6.962,3.15)(6.987,3.6)(7.017,4.0)(7.06,4.1)(7.106,3.9)(7.116,3.0)(7.121,2.1)(7.129,1.8)(7.144,1.3)(7.157,0.9)};
\addlegendentry{\textcolor{cdred}{00150.RA2}}
\addplot[cpurple,solid] coordinates {(5.897,0.15)(5.94,0.15)(5.978,0.16)(5.992,0.05)(5.999,0.34)(6.001,-0.01)(6.006,0.04)(6.25,0.05)(6.4,0.01)(6.548,0.03)(6.694,0.11)(6.840,0.29)(6.926,0.41)(6.930,2.3)(6.941,2.7)(6.961,3.15)(6.986,3.6)(7.016,4.0)(7.06,3.8)(7.106,4.05)(7.110,3.0)(7.115,2.2)(7.123,1.95)(7.138,1.5)(7.151,1.2)};
\addlegendentry{\textcolor{cpurple}{00152.RA2}}
\addplot[cgray,solid] coordinates {(5.897,0.17)(5.94,0.15)(5.978,0.15)(5.992,0.05)(5.999,0.52)(6.001,-0.08)(6.006,0.03)(6.25,0.02)(6.4,0.04)(6.549,0.03)(6.697,0.11)(6.845,0.29)(6.926,0.40)(6.930,2.3)(6.941,2.7)(6.961,3.15)(6.986,3.6)(7.016,4.0)(7.06,4.2)(7.106,4.2)(7.112,3.0)(7.117,2.15)(7.125,1.85)(7.14,1.35)(7.153,0.8)};
\addlegendentry{\textcolor{cgray}{00154.RA2}}
\addplot[cblue,solid] coordinates {(5.897,0.16)(5.923,0.15)(5.9245,1.72)(5.926,0.15)(5.94,0.16)(5.978,0.14)(5.992,0.06)(5.999,0.40)(6.001,-0.03)(6.006,0.03)(6.25,0.04)(6.4,0.02)(6.550,0.03)(6.700,0.11)(6.850,0.29)(6.926,0.39)(6.930,2.3)(6.941,2.7)(6.961,3.15)(6.986,3.6)(7.016,4.0)(7.06,3.95)(7.106,3.85)(7.114,3.0)(7.119,2.2)(7.127,1.9)(7.142,1.45)(7.155,1.1)};
\addlegendentry{\textcolor{cblue}{00156.RA2}}
\end{axis}
\end{tikzpicture}
\end{document}
